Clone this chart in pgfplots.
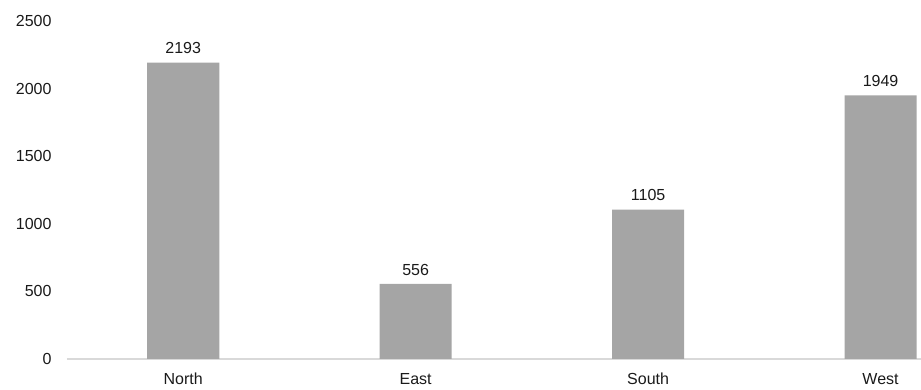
\documentclass[border=0pt]{standalone}
\usepackage{pgfplots}
\pgfplotsset{compat=1.18}
\usepackage{fontspec}
\setmainfont{Liberation Sans}
\definecolor{barg}{HTML}{A5A5A5}
\definecolor{axg}{HTML}{D9D9D9}
\definecolor{txt}{HTML}{1A1A1A}
\pgfplotsset{/pgf/number format/1000 sep={}}
\begin{document}
\begin{tikzpicture}[x=1pt,y=1pt]
\begin{axis}[
  scale only axis,
  width=854pt, height=338pt,
  xmin=-0.5, xmax=3.174,
  ymin=0, ymax=2500,
  axis x line*=bottom,
  axis y line=none,
  x axis line style={draw=axg, line width=1.2pt},
  xtick={0,1,2,3},
  xticklabels={North,East,South,West},
  major tick length=0pt,
  tick style={draw=none},
  ybar, bar width=0.31,
  font=\fontsize{16}{18}\selectfont,
  tick label style={text=txt},
  xticklabel style={anchor=north, text height=11.5pt, text depth=0pt, yshift=-10pt},
  nodes near coords,
  every node near coord/.append style={text=txt, font=\fontsize{16}{18}\selectfont, yshift=5pt},
  /pgf/number format/assume math mode=true,
  clip=false,
]
\addplot[fill=barg, draw=none] coordinates {(0,2193) (1,556) (2,1105) (3,1949)};
\end{axis}
\begin{axis}[
  scale only axis,
  width=854pt, height=338pt,
  xmin=-0.5, xmax=3.174,
  ymin=0, ymax=2500,
  axis x line=none,
  axis y line*=left,
  y axis line style={draw=none},
  ytick={0,500,1000,1500,2000,2500},
  major tick length=0pt,
  font=\fontsize{16}{18}\selectfont,
  yticklabel style={text=txt, anchor=east, xshift=-12pt},
  /pgf/number format/assume math mode=true,
]
\addplot[draw=none] coordinates {(0,0)};
\end{axis}
\pgfresetboundingbox
\path[use as bounding box] (-67pt,-31pt) rectangle (854pt,359pt);
\end{tikzpicture}
\end{document}
